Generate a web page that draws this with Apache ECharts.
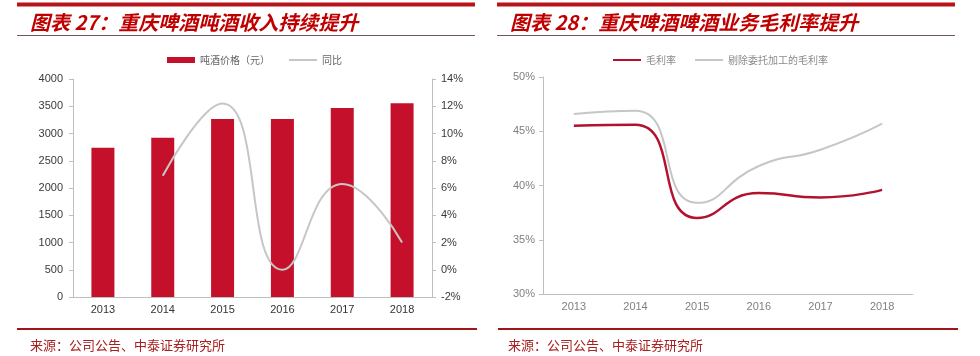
<!DOCTYPE html>
<html>
<head>
<meta charset="utf-8">
<script src="https://cdn.jsdelivr.net/npm/echarts@6/dist/echarts.min.js"></script>
<style>
html,body{margin:0;padding:0;background:#fff;}
#c{width:980px;height:356px;}
</style>
</head>
<body>
<div id="c"></div>
<script>
// ---- data ----
var categories = ['2013', '2014', '2015', '2016', '2017', '2018'];
var tonPrice = [2740, 2920, 3265, 3265, 3470, 3555];          // 吨酒价格（元）
var tonPriceYoY = [null, 6.9, 12.2, 0.0, 6.3, 2.0];           // 同比 (%)
var grossMargin = [45.5, 45.6, 37.0, 39.3, 38.9, 39.6];        // 毛利率 (%)
var grossMarginExOEM = [46.6, 46.9, 38.4, 41.8, 43.3, 45.7];   // 剔除委托加工的毛利率 (%)
var leftTicks = { min: 0, max: 4000, interval: 500 };
var rightTicks = { min: -2, max: 14, interval: 2 };
var marginTicks = { min: 30, max: 50, interval: 5 };

var titleLeft = '图表 27：重庆啤酒吨酒收入持续提升';
var titleRight = '图表 28：重庆啤酒啤酒业务毛利率提升';
var sourceText = '来源：公司公告、中泰证券研究所';

var RED = '#c5102c';
var GREY = '#c6c6c6';
var AX = '#bfbfbf';
var FONT = 'Liberation Sans, Arial, sans-serif';
var CJK = 'Noto Sans CJK SC';
var LINE_ICON = 'path://M0 0H140V10H0Z';

var chart = echarts.init(document.getElementById('c'), null, { renderer: 'canvas' });

function hLine(x1, x2, y, w, color) {
  return { type: 'line', silent: true, shape: { x1: x1, y1: y, x2: x2, y2: y },
           style: { stroke: color, lineWidth: w } };
}
function txt(x, y, text, size, color, weight, style) {
  return { type: 'text', silent: true, x: x, y: y,
           style: { text: text, fill: color, fontSize: size, fontFamily: CJK,
                    fontWeight: weight || 'normal', fontStyle: style || 'normal',
                    verticalAlign: 'middle', align: 'left' } };
}

var option = {
  backgroundColor: '#fff',
  animation: false,
  graphic: [
    hLine(17, 475, 4.5, 4, '#b8141c'),
    hLine(497, 955, 4.5, 4, '#b8141c'),
    hLine(17, 475, 35.5, 1, '#6e5a5a'),
    hLine(497, 955, 35.5, 1, '#6e5a5a'),
    hLine(17, 477, 329, 2, '#a0141c'),
    hLine(498, 958, 329, 2, '#a0141c'),
    txt(30, 22, titleLeft, 20, '#c00000', 'bold', 'italic'),
    txt(510, 22, titleRight, 20, '#c00000', 'bold', 'italic'),
    txt(30, 345, sourceText, 13, '#a82020'),
    txt(508, 345, sourceText, 13, '#a82020')
  ],
  legend: [
    {
      left: 162, top: 50, itemWidth: 28, itemHeight: 6, itemGap: 19,
      textStyle: { fontSize: 10, color: '#666', fontFamily: CJK },
      data: [{ name: '吨酒价格（元）', icon: 'rect' }, { name: '同比', icon: LINE_ICON }]
    },
    {
      left: 608, top: 50, itemWidth: 28, itemHeight: 6, itemGap: 19,
      textStyle: { fontSize: 10, color: '#8a8a8a', fontFamily: CJK },
      data: [{ name: '毛利率', icon: LINE_ICON }, { name: '剔除委托加工的毛利率', icon: LINE_ICON }]
    }
  ],
  grid: [
    { left: 73, right: 548, top: 79, bottom: 59 },
    { left: 543, right: 67, top: 77, bottom: 62 }
  ],
  xAxis: [
    {
      type: 'category', gridIndex: 0, data: categories,
      axisLine: { lineStyle: { color: AX } },
      axisTick: { lineStyle: { color: AX }, length: 4 },
      axisLabel: { color: '#333', fontSize: 11, fontFamily: FONT, margin: 7 }
    },
    {
      type: 'category', gridIndex: 1, data: categories,
      axisLine: { lineStyle: { color: AX } },
      axisTick: { lineStyle: { color: AX }, length: 4 },
      axisLabel: { color: '#808080', fontSize: 11, fontFamily: FONT, margin: 7 }
    }
  ],
  yAxis: [
    {
      type: 'value', gridIndex: 0, min: leftTicks.min, max: leftTicks.max, interval: leftTicks.interval,
      splitLine: { show: false },
      axisLine: { show: true, lineStyle: { color: AX } },
      axisTick: { show: true, length: 4, lineStyle: { color: AX } },
      axisLabel: { color: '#3a3a3a', fontSize: 11, fontFamily: FONT, margin: 10,
                   formatter: function (v) { return String(v); } }
    },
    {
      type: 'value', gridIndex: 0, position: 'right', min: rightTicks.min, max: rightTicks.max, interval: rightTicks.interval,
      splitLine: { show: false },
      axisLine: { show: true, lineStyle: { color: AX } },
      axisTick: { show: true, length: 4, lineStyle: { color: AX } },
      axisLabel: { color: '#3a3a3a', fontSize: 11, fontFamily: FONT, margin: 9, formatter: '{value}%' }
    },
    {
      type: 'value', gridIndex: 1, min: marginTicks.min, max: marginTicks.max, interval: marginTicks.interval,
      splitLine: { show: false },
      axisLine: { show: true, lineStyle: { color: AX } },
      axisTick: { show: true, length: 4, lineStyle: { color: AX } },
      axisLabel: { color: '#808080', fontSize: 11, fontFamily: FONT, margin: 8, formatter: '{value}%' }
    }
  ],
  series: [
    {
      name: '吨酒价格（元）', type: 'bar', xAxisIndex: 0, yAxisIndex: 0,
      data: tonPrice, barWidth: 23, itemStyle: { color: RED }
    },
    {
      name: '同比', type: 'line', xAxisIndex: 0, yAxisIndex: 1,
      data: tonPriceYoY, smooth: 0.5, symbol: 'none',
      lineStyle: { color: GREY, width: 2 }, itemStyle: { color: GREY }
    },
    {
      name: '毛利率', type: 'line', xAxisIndex: 1, yAxisIndex: 2,
      data: grossMargin, smooth: 0.55, symbol: 'none',
      lineStyle: { color: '#b3122e', width: 2.5 }, itemStyle: { color: '#b3122e' }
    },
    {
      name: '剔除委托加工的毛利率', type: 'line', xAxisIndex: 1, yAxisIndex: 2,
      data: grossMarginExOEM, smooth: 0.55, symbol: 'none',
      lineStyle: { color: GREY, width: 2 }, itemStyle: { color: GREY }
    }
  ]
};
chart.setOption(option);
</script>
</body>
</html>
